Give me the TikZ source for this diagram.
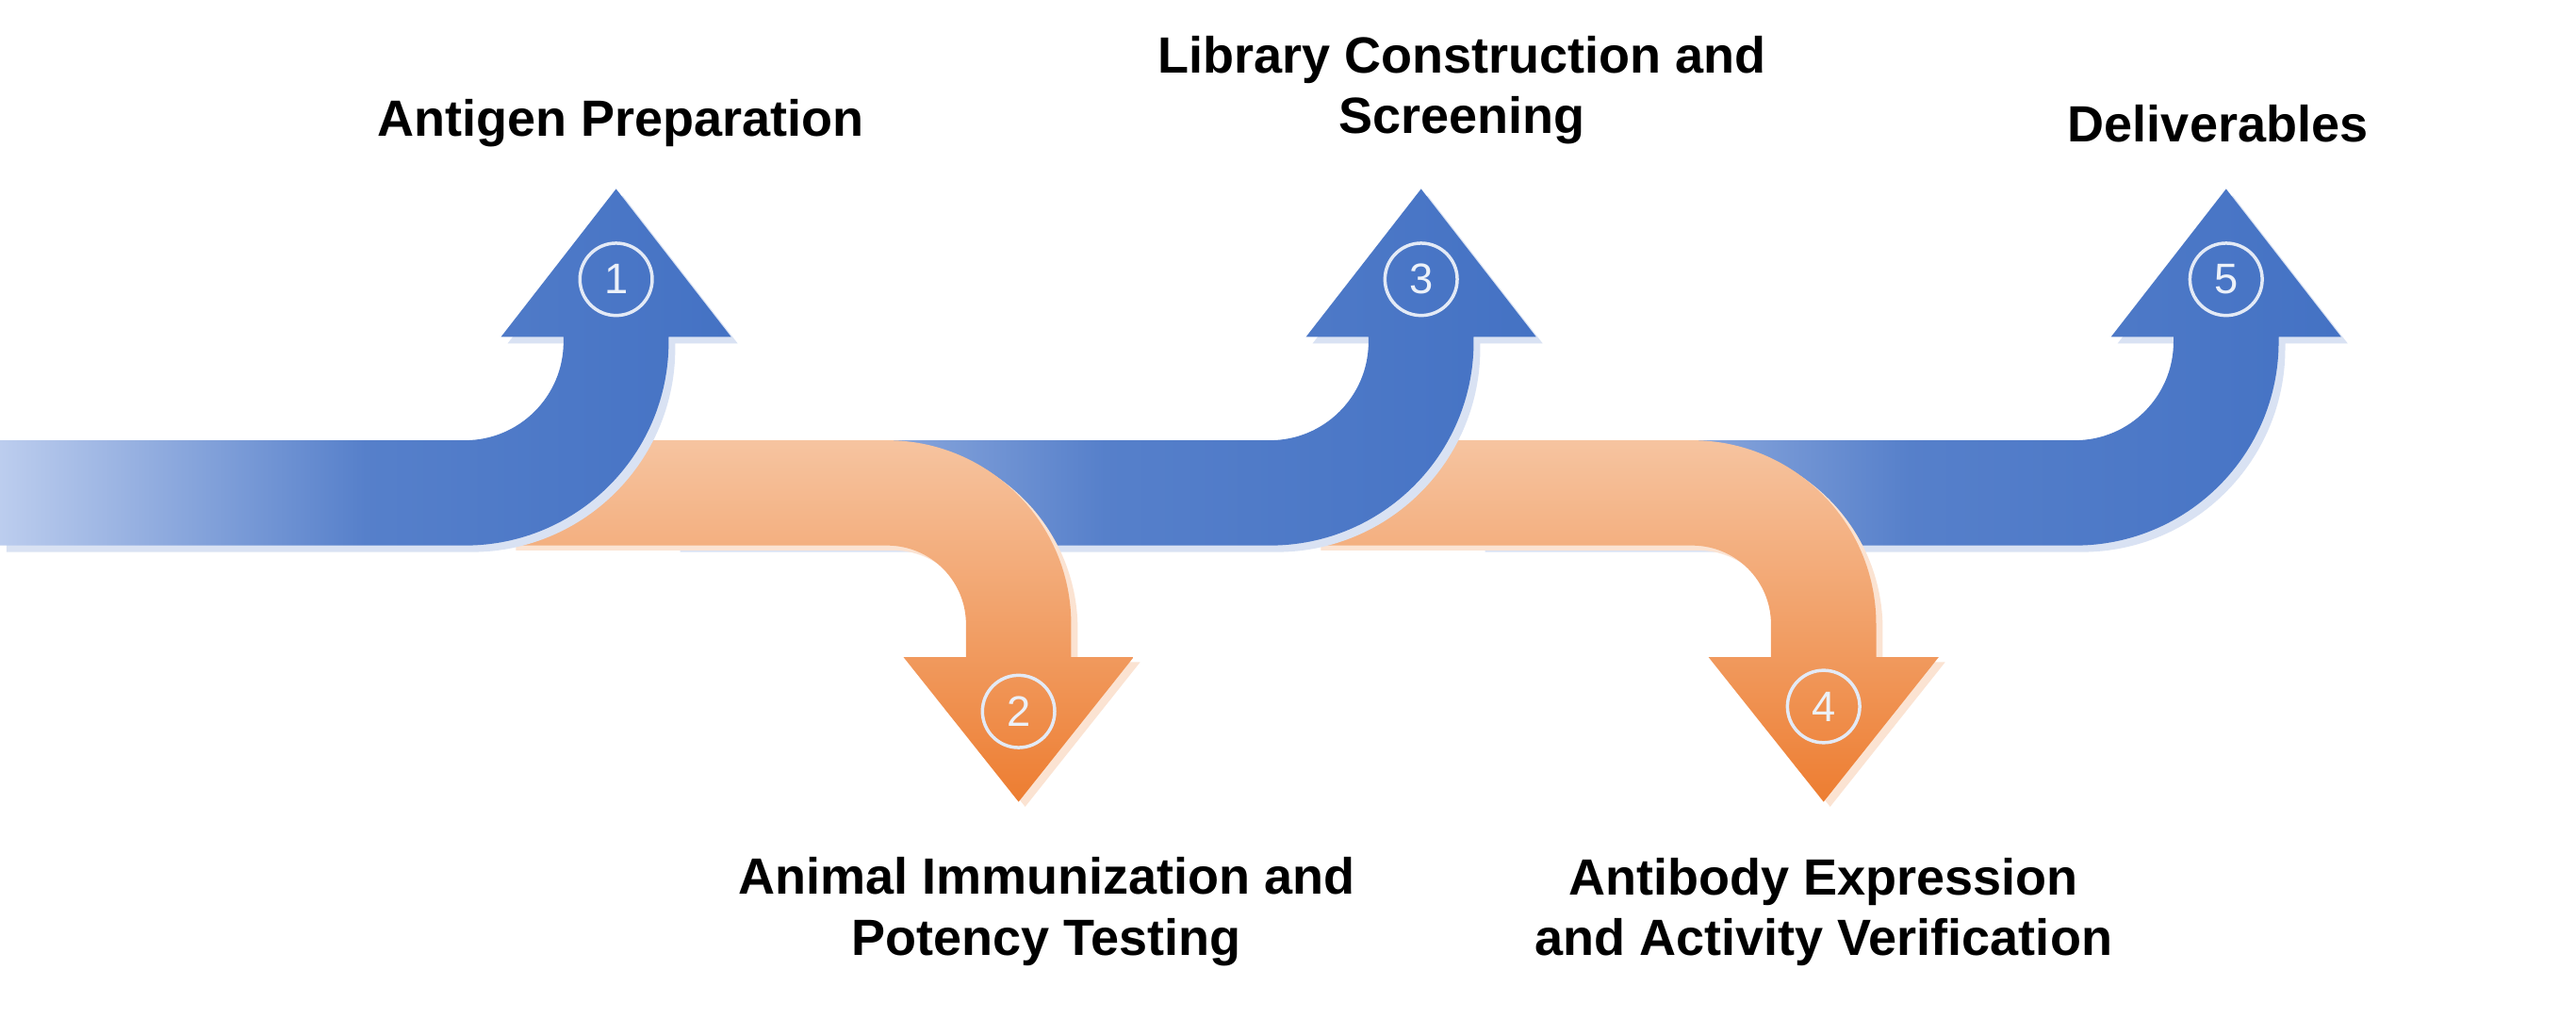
\documentclass[tikz,border=0pt]{standalone}
\usepackage{fontspec}
\setmainfont{Liberation Sans}
\definecolor{bdark}{HTML}{4472C4}
\definecolor{blight}{HTML}{BCCDEE}
\definecolor{bshadow}{HTML}{D9E2F3}
\definecolor{odark}{HTML}{ED7D31}
\definecolor{olight}{HTML}{F6C4A0}
\definecolor{oshadow}{HTML}{FBE3D2}
\newcommand{\bluepath}[2]{(#2,-268) -- (#1-92,-268) arc[start angle=270,end angle=360,radius=60] -- (#1-32,-205) -- (#1-70,-205) -- (#1,-115) -- (#1+70,-205) -- (#1+32,-205) -- (#1+32,-208) arc[start angle=0,end angle=-90,radius=124] -- (#2,-332) -- cycle}
\newcommand{\orangepath}[2]{(#2,-268) -- (#1-80,-268) arc[start angle=90,end angle=0,radius=112] -- (#1+32,-400) -- (#1+70,-400) -- (#1,-488) -- (#1-70,-400) -- (#1-32,-400) -- (#1-32,-380) arc[start angle=0,end angle=90,radius=48] -- (#2,-332) -- cycle}
\newcommand{\mkblue}[2]{%
  \fill[bshadow,shift={(4,-4)}] \bluepath{#1}{#2};
  \shade[left color=blight,right color=bdark,middle color=bdark!85!blight] \bluepath{#1}{#2};}
\newcommand{\mkorange}[2]{%
  \fill[oshadow,shift={(4,-3)}] \orangepath{#1}{#2};
  \shade[top color=olight,bottom color=odark] \orangepath{#1}{#2};}
\tikzset{num/.style={circle,draw=white!85!bdark,line width=2pt,text=white!90!bdark,minimum size=44pt,inner sep=0pt,font=\fontsize{26}{26}\selectfont},
lab/.style={font=\fontsize{31}{37}\selectfont\bfseries,align=center,text=black}}
\begin{document}
\begin{tikzpicture}[x=1pt,y=1pt]
\useasboundingbox (0,0) rectangle (1568,-620);
\fill[white] (0,0) rectangle (1568,-620);
\mkblue{1355}{900}
\mkorange{1110}{800}
\mkblue{865}{410}
\mkorange{620}{310}
\mkblue{375}{0}
\node[num] (n1) at (375,-170) {1};
\node[num] (n2) at (620,-433) {2};
\node[num] (n3) at (865,-170) {3};
\node[num] (n4) at (1110,-430) {4};
\node[num] (n5) at (1355,-170) {5};
\node[lab] (l1) at (378,-75) {Antigen Preparation};
\node[lab] (l3) at (890,-55) {Library Construction and\\Screening};
\node[lab] (l5) at (1350,-75) {Deliverables};
\node[lab] (l2) at (637,-555) {Animal Immunization and\\Potency Testing};
\node[lab] (l4) at (1110,-555) {Antibody Expression\\and Activity Verification};
\end{tikzpicture}
\end{document}
